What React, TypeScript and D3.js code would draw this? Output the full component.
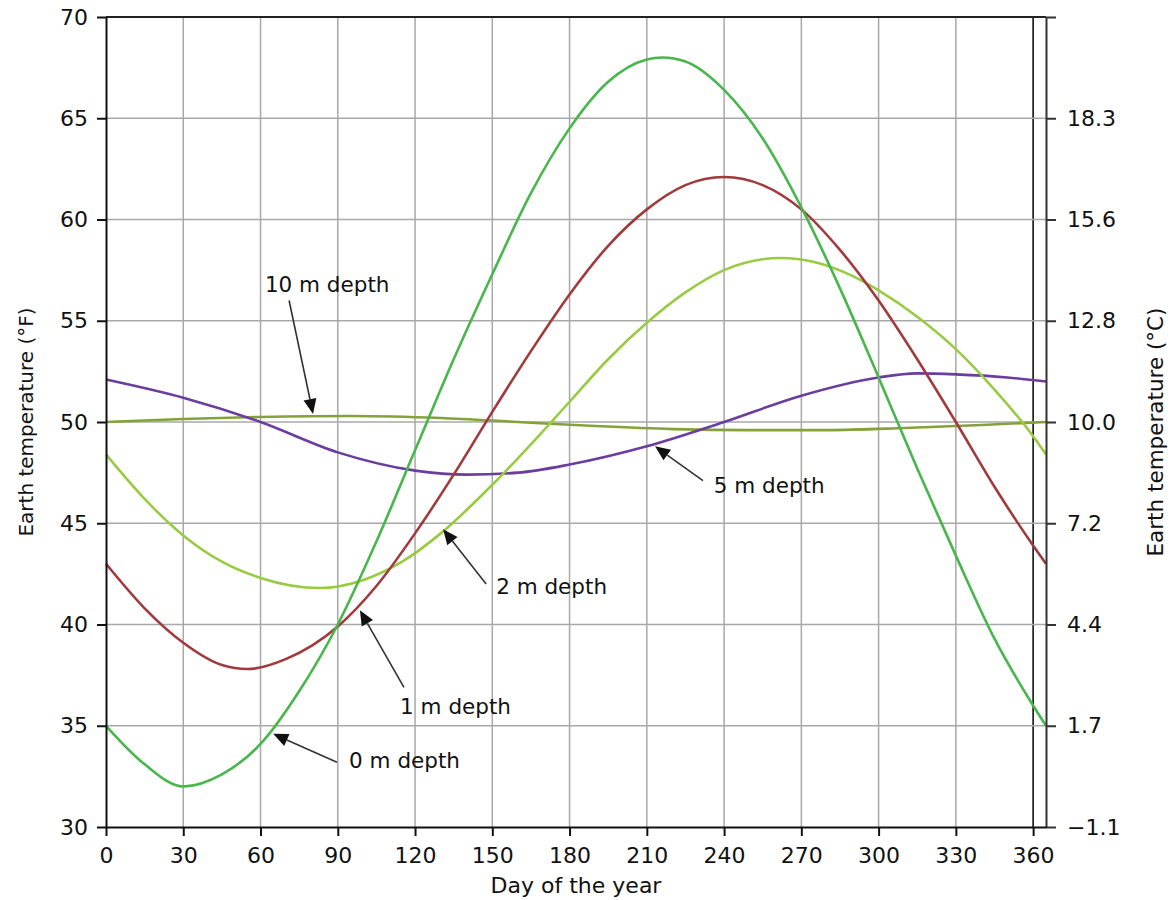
import * as d3 from 'd3'
import { useEffect, useRef } from 'react'

// [day, °F]
const depth0m = [[0,35],[15,33.1],[30,32],[45,32.6],[60,34.1],[75,36.7],[90,40],[105,44.1],[120,48.6],[135,53.1],[150,57.3],[165,61.3],[180,64.5],[195,66.8],[210,67.9],[216,68],[225,67.8],[240,66.4],[255,64.0],[270,60.6],[285,56.6],[300,52.2],[315,47.7],[330,43.4],[345,39.3],[360,36.0],[365,35]]
const depth1m = [[0,43],[15,40.8],[30,39.1],[45,38.0],[55,37.8],[70,38.3],[90,39.9],[105,41.9],[120,44.5],[135,47.4],[150,50.5],[165,53.5],[180,56.3],[195,58.7],[210,60.5],[225,61.7],[240,62.1],[255,61.7],[270,60.5],[285,58.5],[300,56.0],[315,53.1],[330,50.0],[345,46.8],[360,43.9],[365,43.0]]
const depth2m = [[0,48.4],[15,46.2],[30,44.4],[45,43.1],[60,42.3],[83,41.8],[100,42.2],[115,43.1],[130,44.5],[150,46.9],[165,48.9],[180,51.0],[195,53.1],[210,54.9],[225,56.4],[240,57.5],[262,58.1],[275,57.9],[290,57.2],[300,56.5],[315,55.2],[330,53.6],[345,51.6],[360,49.3],[365,48.4]]
const depth5m = [[0,52.1],[30,51.2],[60,50.0],[90,48.5],[120,47.6],[140,47.4],[160,47.5],[180,47.9],[210,48.8],[240,50.0],[270,51.3],[300,52.2],[315,52.4],[330,52.35],[350,52.2],[365,52.0]]
const depth10m = [[0,50.0],[30,50.15],[60,50.25],[95,50.3],[130,50.2],[160,50.0],[190,49.8],[220,49.65],[250,49.6],[280,49.6],[310,49.7],[340,49.85],[365,50.0]]

const series = [
  { name: '10 m', data: depth10m, color: '#85a23a' },
  { name: '5 m', data: depth5m, color: '#6a3d9e' },
  { name: '2 m', data: depth2m, color: '#99cb42' },
  { name: '1 m', data: depth1m, color: '#a13a3c' },
  { name: '0 m', data: depth0m, color: '#47b74c' },
]

const dayTicks = [0, 30, 60, 90, 120, 150, 180, 210, 240, 270, 300, 330, 360]
const fTicks = [30, 35, 40, 45, 50, 55, 60, 65, 70]
const cLabels = ['\u22121.1', '1.7', '4.4', '7.2', '10.0', '12.8', '15.6', '18.3', '']

// annotation labels: text, label anchor [day, °F], arrow tail, arrow tip
const labelText = ['10 m depth', '5 m depth', '2 m depth', '1 m depth', '0 m depth']
const labelAt = [[61.7, 56.4], [236, 46.5], [151.5, 41.5], [114.2, 35.6], [94.4, 32.9]]
const arrowFrom = [[71.1, 56.0], [231.8, 47.1], [147.6, 42.0], [115.7, 36.9], [89.7, 33.2]]
const arrowTo = [[80.4, 50.4], [213.2, 48.8], [130.9, 44.7], [98.6, 40.7], [64.9, 34.6]]

const FONT = '"DejaVu Sans", sans-serif'

function makeChart(el: SVGSVGElement) {
  const svg = d3.select(el)
  svg.selectAll('*').remove()

  const x = d3.scaleLinear().domain([0, 365]).range([106, 1046])
  const y = d3.scaleLinear().domain([30, 70]).range([827, 17])

  // grid
  const grid = svg.append('g')
  grid.selectAll('.vg').data(dayTicks.slice(1)).join('line')
    .attr('x1', d => x(d)).attr('x2', d => x(d))
    .attr('y1', y(30)).attr('y2', y(70))
    .attr('stroke', d => d === 360 ? '#111' : '#a8a8a8')
    .attr('stroke-width', d => d === 360 ? 1.6 : 1.5)
  grid.selectAll('.hg').data(fTicks.slice(1)).join('line')
    .attr('x1', x(0)).attr('x2', x(365))
    .attr('y1', d => y(d)).attr('y2', d => y(d))
    .attr('stroke', d => d === 70 ? '#222' : '#a8a8a8')
    .attr('stroke-width', d => d === 70 ? 2 : 1.5)

  // curves
  const line = d3.line<number[]>()
    .x(d => x(d[0])).y(d => y(d[1]))
    .curve(d3.curveMonotoneX)
  svg.append('g').selectAll('path').data(series).join('path')
    .attr('d', s => line(s.data))
    .attr('fill', 'none')
    .attr('stroke', s => s.color)
    .attr('stroke-width', 2.6)

  // axes
  const styleAxis = (g: any, color: string) => {
    g.select('.domain').attr('stroke', color).attr('stroke-width', 2)
    g.selectAll('.tick line').attr('stroke', color).attr('stroke-width', 2)
    g.selectAll('text').attr('font-family', FONT).attr('font-size', 22).attr('fill', '#111')
  }
  svg.append('g').attr('transform', `translate(${x(0)},0)`)
    .call(d3.axisLeft(y).tickValues(fTicks).tickFormat(d3.format('d')).tickSize(9).tickPadding(9).tickSizeOuter(0))
    .call((g: any) => styleAxis(g, '#111'))
  svg.append('g').attr('transform', `translate(${x(365)},0)`)
    .call(d3.axisRight(y).tickValues(fTicks).tickFormat((d, i) => cLabels[i]).tickSize(10).tickPadding(11).tickSizeOuter(0))
    .call((g: any) => styleAxis(g, '#333'))
  svg.append('g').attr('transform', `translate(0,${y(30)})`)
    .call(d3.axisBottom(x).tickValues(dayTicks).tickFormat(d3.format('d')).tickSize(9).tickPadding(11).tickSizeOuter(0))
    .call((g: any) => styleAxis(g, '#111'))

  // axis titles
  svg.append('text').text('Day of the year')
    .attr('x', (x(0) + x(365)) / 2).attr('y', 893)
    .attr('text-anchor', 'middle').attr('font-family', FONT).attr('font-size', 22).attr('fill', '#111')
  svg.append('text').text('Earth temperature (°F)')
    .attr('transform', `translate(33,${y(50)}) rotate(-90)`)
    .attr('text-anchor', 'middle').attr('font-family', FONT).attr('font-size', 20).attr('fill', '#111')
  svg.append('text').text('Earth temperature (°C)')
    .attr('transform', `translate(1163,${y(50) + 10}) rotate(-90)`)
    .attr('text-anchor', 'middle').attr('font-family', FONT).attr('font-size', 21.5).attr('fill', '#111')

  // annotations
  const ann = svg.append('g')
  labelText.forEach((t, i) => {
    const [sx, sy] = [x(arrowFrom[i][0]), y(arrowFrom[i][1])]
    const [tx, ty] = [x(arrowTo[i][0]), y(arrowTo[i][1])]
    const a = Math.atan2(ty - sy, tx - sx)
    const len = 15, hw = 6.5
    const bx = tx - len * Math.cos(a), by = ty - len * Math.sin(a)
    ann.append('line')
      .attr('x1', sx).attr('y1', sy).attr('x2', bx).attr('y2', by)
      .attr('stroke', '#333').attr('stroke-width', 1.6)
    ann.append('path')
      .attr('d', `M${tx},${ty}L${bx + hw * Math.sin(a)},${by - hw * Math.cos(a)}L${bx - hw * Math.sin(a)},${by + hw * Math.cos(a)}Z`)
      .attr('fill', '#111')
    ann.append('text').text(t)
      .attr('x', x(labelAt[i][0])).attr('y', y(labelAt[i][1]))
      .attr('font-family', FONT).attr('font-size', 21.5).attr('fill', '#111')
  })
}

function App() {
  const ref = useRef<SVGSVGElement>(null)
  useEffect(() => {
    if (ref.current) makeChart(ref.current)
  })
  return (
    <svg ref={ref} width={1172} height={900}
      style={{ position: 'absolute', left: 0, top: 0, background: '#fff' }} />
  )
}

export default App
